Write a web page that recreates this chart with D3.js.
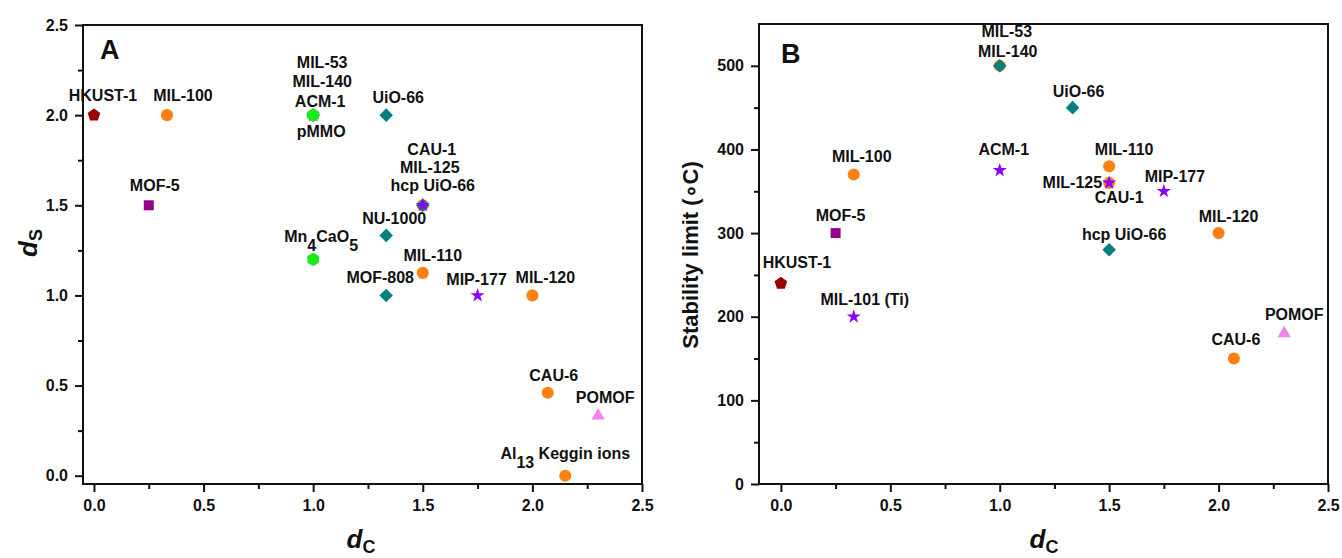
<!DOCTYPE html>
<html>
<head>
<meta charset="utf-8">
<script src="https://cdn.jsdelivr.net/npm/d3@7"></script>
<style>
  body { margin: 0; background: #fff; }
  svg text { font-family: "Liberation Sans", Arial, sans-serif; font-weight: bold; fill: #111; }
</style>
</head>
<body>
<svg id="chart" width="1342" height="558"></svg>
<script>
// ---- panel A: d_S against d_C (draw order = overlap order)
var namesA = ["HKUST-1", "MIL-100", "MOF-5", "MIL-53", "MIL-140", "ACM-1", "pMMO", "UiO-66",
  "CAU-1", "hcp UiO-66", "MIL-125", "NU-1000", "Mn_{4}CaO_{5}", "MIL-110", "MOF-808",
  "MIP-177", "MIL-120", "CAU-6", "POMOF", "Al_{13} Keggin ions"];
var dcA = [0, 0.333, 0.25, 1, 1, 1, 1, 1.333, 1.5, 1.5, 1.5, 1.333, 1, 1.5, 1.333, 1.75, 2, 2.07, 2.3, 2.15];
var dsA = [2, 2, 1.5, 2, 2, 2, 2, 2, 1.5, 1.5, 1.5, 1.333, 1.2, 1.125, 1, 1, 1, 0.46, 0.333, 0];
var groupA = ["cu", "al", "zn", "al", "zr", "ti", "bio", "zr", "al", "zr", "ti", "zr", "bio", "al", "zr",
  "ti", "al", "al", "pom", "al"];

// ---- panel B: stability limit (°C) against d_C
var namesB = ["HKUST-1", "MIL-101 (Ti)", "MOF-5", "MIL-100", "MIL-53", "MIL-140", "ACM-1", "UiO-66",
  "MIL-110", "CAU-1", "MIL-125", "MIP-177", "MIL-120", "hcp UiO-66", "CAU-6", "POMOF"];
var dcB = [0, 0.333, 0.25, 0.333, 1, 1, 1, 1.333, 1.5, 1.5, 1.5, 1.75, 2, 1.5, 2.07, 2.3];
var stabB = [240, 200, 300, 370, 500, 500, 375, 450, 380, 360, 360, 350, 300, 280, 150, 180];
var groupB = ["cu", "ti", "zn", "al", "al", "zr", "ti", "zr", "al", "al", "ti", "ti", "al", "zr", "al", "pom"];

// ---- ticks
var dcTicks = [0, 0.5, 1, 1.5, 2, 2.5];
var dcMinor = [0.25, 0.75, 1.25, 1.75, 2.25];
var dsTicks = [0, 0.5, 1, 1.5, 2, 2.5];
var dsMinor = [0.25, 0.75, 1.25, 1.75, 2.25];
var stabTicks = [0, 100, 200, 300, 400, 500];
var stabMinor = [50, 150, 250, 350, 450];

// label offsets from the marker: [dx, dy(baseline), anchor]
var labelPosA = {
  "HKUST-1": [9, -14], "MIL-100": [16, -14], "MOF-5": [6, -14],
  "MIL-53": [9, -47], "MIL-140": [9, -28], "ACM-1": [7, -8], "pMMO": [8, 22],
  "UiO-66": [12, -12], "CAU-1": [9, -50], "MIL-125": [7, -32], "hcp UiO-66": [10, -14],
  "NU-1000": [8, -11], "Mn_{4}CaO_{5}": [8, -17], "MIL-110": [10, -12], "MOF-808": [-6, -12],
  "MIP-177": [-1, -10], "MIL-120": [13, -12], "CAU-6": [6, -12], "POMOF": [7, -13],
  "Al_{13} Keggin ions": [0, -17]
};
var labelPosB = {
  "HKUST-1": [16, -15], "MIL-101 (Ti)": [11, -12], "MOF-5": [5, -12], "MIL-100": [8, -13],
  "MIL-53": [7, -29], "MIL-140": [8, -9], "ACM-1": [4, -15], "UiO-66": [6, -11],
  "MIL-110": [15, -11], "CAU-1": [10, 20], "MIL-125": [-7, 5, "end"], "MIP-177": [11, -9],
  "MIL-120": [10, -11], "hcp UiO-66": [15, -10], "CAU-6": [2, -14], "POMOF": [10, -13]
};

function polygonSymbol(n) {
  return {
    draw: function (ctx, size) {
      var r = Math.sqrt(size);
      for (var k = 0; k < n; k++) {
        var a = -Math.PI / 2 + (k * 2 * Math.PI) / n;
        if (k === 0) ctx.moveTo(r * Math.cos(a), r * Math.sin(a));
        else ctx.lineTo(r * Math.cos(a), r * Math.sin(a));
      }
      ctx.closePath();
    }
  };
}

var markStyle = {
  cu: { type: polygonSymbol(5), size: 44, color: "#990000" },
  zn: { type: d3.symbolSquare, size: 100, color: "#930089" },
  al: { type: d3.symbolCircle, size: 115, color: "#ff8012" },
  zr: { type: d3.symbolSquare, size: 92, color: "#008080", rotate: 45 },
  ti: { type: d3.symbolStar, size: 62, color: "#8a00ff" },
  bio: { type: polygonSymbol(6), size: 44, color: "#14ee14" },
  pom: { type: d3.symbolTriangle, size: 76, color: "#f283f0" }
};

var svg = d3.select("#chart");

// text with _{sub} parts
function richText(sel, str, subShift, subSize) {
  var parts = str.split(/(_\{[^}]*\})/).filter(function (s) { return s.length; });
  var lowered = false;
  parts.forEach(function (s) {
    var t = sel.append("tspan");
    if (s.indexOf("_{") === 0) {
      t.text(s.slice(2, -1)).attr("dy", subShift).attr("font-size", subSize);
      lowered = true;
    } else {
      t.text(s);
      if (lowered) { t.attr("dy", -subShift); lowered = false; }
    }
  });
}

function drawPanel(p) {
  var g = svg.append("g");
  var x = d3.scaleLinear().domain(p.xDomain).range([p.left, p.right]);
  var y = d3.scaleLinear().domain(p.yDomain).range([p.bottom, p.top]);

  function styleAxis(a) {
    a.select(".domain").remove();
    a.selectAll(".tick line").attr("stroke", "#111").attr("stroke-width", 2);
    a.attr("font-size", 16).attr("font-family", null);
  }

  g.append("g").attr("transform", "translate(0," + p.bottom + ")")
    .call(d3.axisBottom(x).tickValues(p.xMinor).tickSize(5).tickFormat(""))
    .call(styleAxis);
  g.append("g").attr("transform", "translate(0," + p.bottom + ")")
    .call(d3.axisBottom(x).tickValues(p.xTicks).tickSize(8).tickPadding(8).tickFormat(d3.format(".1f")))
    .call(styleAxis);
  g.append("g").attr("transform", "translate(" + p.left + ",0)")
    .call(d3.axisLeft(y).tickValues(p.yMinor).tickSize(5).tickFormat(""))
    .call(styleAxis);
  g.append("g").attr("transform", "translate(" + p.left + ",0)")
    .call(d3.axisLeft(y).tickValues(p.yTicks).tickSize(8).tickPadding(7).tickFormat(p.yFormat))
    .call(styleAxis);

  // frame
  g.append("rect")
    .attr("x", p.left).attr("y", p.top)
    .attr("width", p.right - p.left).attr("height", p.bottom - p.top)
    .attr("fill", "none").attr("stroke", "#111").attr("stroke-width", 2);

  var idx = d3.range(p.names.length);

  g.selectAll("path.pt")
    .data(idx)
    .enter()
    .append("path")
    .attr("class", "pt")
    .attr("transform", function (i) {
      var s = markStyle[p.groups[i]];
      return "translate(" + x(p.xs[i]) + "," + y(p.ys[i]) + ")" + (s.rotate ? " rotate(" + s.rotate + ")" : "");
    })
    .attr("d", function (i) {
      var s = markStyle[p.groups[i]];
      return d3.symbol().type(s.type).size(s.size)();
    })
    .attr("fill", function (i) { return markStyle[p.groups[i]].color; });

  g.selectAll("text.lbl")
    .data(idx)
    .enter()
    .append("text")
    .attr("class", "lbl")
    .attr("font-size", 16)
    .attr("x", function (i) { return x(p.xs[i]) + p.labelPos[p.names[i]][0]; })
    .attr("y", function (i) { return y(p.ys[i]) + p.labelPos[p.names[i]][1]; })
    .attr("text-anchor", function (i) { return p.labelPos[p.names[i]][2] || "middle"; })
    .each(function (i) { richText(d3.select(this), p.names[i], 9, 16); });

  g.append("text")
    .attr("x", p.left + p.letterDx).attr("y", p.top + p.letterDy)
    .attr("font-size", 27)
    .text(p.letter);

  return { x: x, y: y };
}

drawPanel({
  names: namesA, xs: dcA, ys: dsA, groups: groupA, labelPos: labelPosA,
  left: 83, right: 642, top: 25, bottom: 484,
  xDomain: [-0.05, 2.5], yDomain: [-0.046, 2.5],
  xTicks: dcTicks, xMinor: dcMinor, yTicks: dsTicks, yMinor: dsMinor,
  yFormat: d3.format(".1f"),
  letter: "A", letterDx: 17, letterDy: 34
});

drawPanel({
  names: namesB, xs: dcB, ys: stabB, groups: groupB, labelPos: labelPosB,
  left: 759, right: 1328, top: 24, bottom: 484,
  xDomain: [-0.1, 2.5], yDomain: [0, 550],
  xTicks: dcTicks, xMinor: dcMinor, yTicks: stabTicks, yMinor: stabMinor,
  yFormat: d3.format("d"),
  letter: "B", letterDx: 22, letterDy: 39
});

// axis titles
function dTitle(xPos, yPos, sub, rotate) {
  var t = svg.append("text")
    .attr("transform", "translate(" + xPos + "," + yPos + ")" + (rotate ? " rotate(-90)" : ""))
    .attr("text-anchor", "middle");
  t.append("tspan").attr("font-size", 26).attr("font-style", "italic").text("d");
  t.append("tspan").attr("font-size", 18).attr("dy", 5).text(sub);
}
dTitle(361, 548, "C", false);
dTitle(1044, 548, "C", false);
dTitle(37, 243, "S", true);

svg.append("text")
  .attr("transform", "translate(698,255) rotate(-90)")
  .attr("text-anchor", "middle")
  .attr("font-size", 22)
  .text("Stability limit (\u2218C)");
</script>
</body>
</html>
